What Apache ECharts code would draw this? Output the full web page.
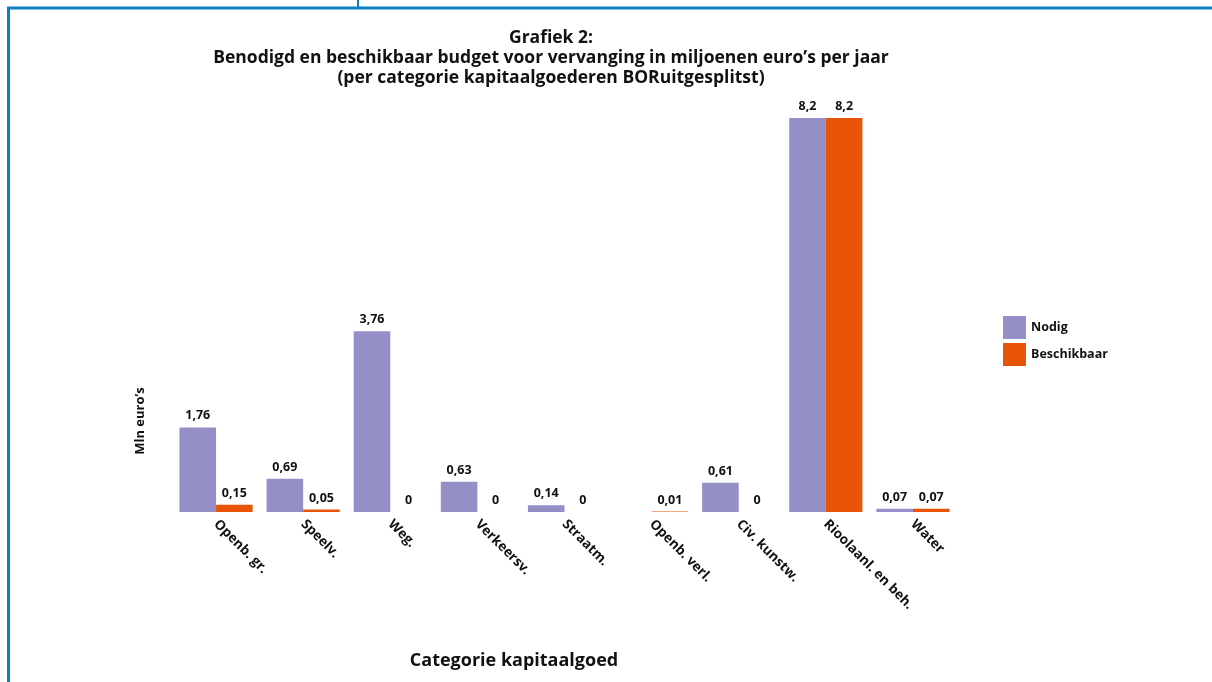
<!DOCTYPE html>
<html>
<head>
<meta charset="utf-8">
<script src="https://cdn.jsdelivr.net/npm/echarts@6/dist/echarts.min.js"></script>
<style>
html,body{margin:0;padding:0;background:#fff;}
#chart{width:1212px;height:682px;}
</style>
</head>
<body>
<div id="chart"></div>
<script>
const categories = ['Openb. gr.', 'Speelv.', 'Weg.', 'Verkeersv.', 'Straatm.', 'Openb. verl.', 'Civ. kunstw.', 'Rioolaanl. en beh.', 'Water'];
const nodig = [1.76, 0.69, 3.76, 0.63, 0.14, null, 0.61, 8.2, 0.07];
const beschikbaar = [0.15, 0.05, 0, 0, 0, 0.01, 0, 8.2, 0.07];
const seriesNames = ['Nodig', 'Beschikbaar'];
const titleLines = ['Grafiek 2:', 'Benodigd en beschikbaar budget voor vervanging in miljoenen euro\u2019s per jaar', '(per categorie kapitaalgoederen BORuitgesplitst)'];
const yAxisName = 'Mln euro\u2019s';
const xAxisName = 'Categorie kapitaalgoed';

const FONT = 'Open Sans';
const chart = echarts.init(document.getElementById('chart'));
const fmt = p => (p.value === null || p.value === undefined) ? '' : String(p.value).replace('.', ',');
const labelStyle = {show: true, position: 'top', formatter: fmt, color: '#111', fontWeight: 'bold', fontSize: 12.5, fontFamily: FONT, distance: 5};

chart.setOption({
  animation: false,
  backgroundColor: '#fff',
  title: {
    text: titleLines.join('\n'),
    left: 546, textAlign: 'center', top: 23,
    textStyle: {fontFamily: FONT, fontWeight: 'bold', fontSize: 17.5, color: '#111', lineHeight: 20}
  },
  legend: {
    orient: 'vertical', left: 998, top: 311,
    itemWidth: 23, itemHeight: 23, itemGap: 4, icon: 'rect',
    textStyle: {fontFamily: FONT, fontWeight: 'bold', fontSize: 12.5, color: '#111'},
    data: seriesNames
  },
  grid: {left: 172.5, right: 1212 - 956.5, top: 118, bottom: 682 - 512, containLabel: false},
  xAxis: {
    type: 'category', data: categories,
    axisLine: {show: false}, axisTick: {show: false},
    axisLabel: {rotate: -45, interval: 0, margin: 10, fontFamily: FONT, fontWeight: 'bold', fontSize: 13.5, color: '#111'}
  },
  yAxis: {
    type: 'value', min: 0, max: 8.2,
    axisLine: {show: false}, axisTick: {show: false}, axisLabel: {show: false}, splitLine: {show: false}
  },
  series: [
    {name: seriesNames[0], type: 'bar', data: nodig, barGap: '0%', barCategoryGap: '16%', itemStyle: {color: '#948fc6'}, label: labelStyle},
    {name: seriesNames[1], type: 'bar', data: beschikbaar, itemStyle: {color: '#e85508'}, label: labelStyle}
  ],
  graphic: [
    {type: 'text', x: 140, y: 421, rotation: Math.PI / 2,
     style: {text: yAxisName, fontFamily: FONT, fontWeight: 'bold', fontSize: 13, fill: '#111', align: 'center', verticalAlign: 'middle'}},
    {type: 'text', x: 514, y: 661, style: {text: xAxisName, fontFamily: FONT, fontWeight: 'bold', fontSize: 18, fill: '#111', align: 'center', verticalAlign: 'middle'}},
    {type: 'line', shape: {x1: 7, y1: 8, x2: 1212, y2: 8}, style: {stroke: '#0b80c6', lineWidth: 3}},
    {type: 'line', shape: {x1: 8.5, y1: 8, x2: 8.5, y2: 682}, style: {stroke: '#0b80c6', lineWidth: 3}},
    {type: 'line', shape: {x1: 358, y1: 0, x2: 358, y2: 8}, style: {stroke: '#0b80c6', lineWidth: 2}}
  ]
});
</script>
</body>
</html>
